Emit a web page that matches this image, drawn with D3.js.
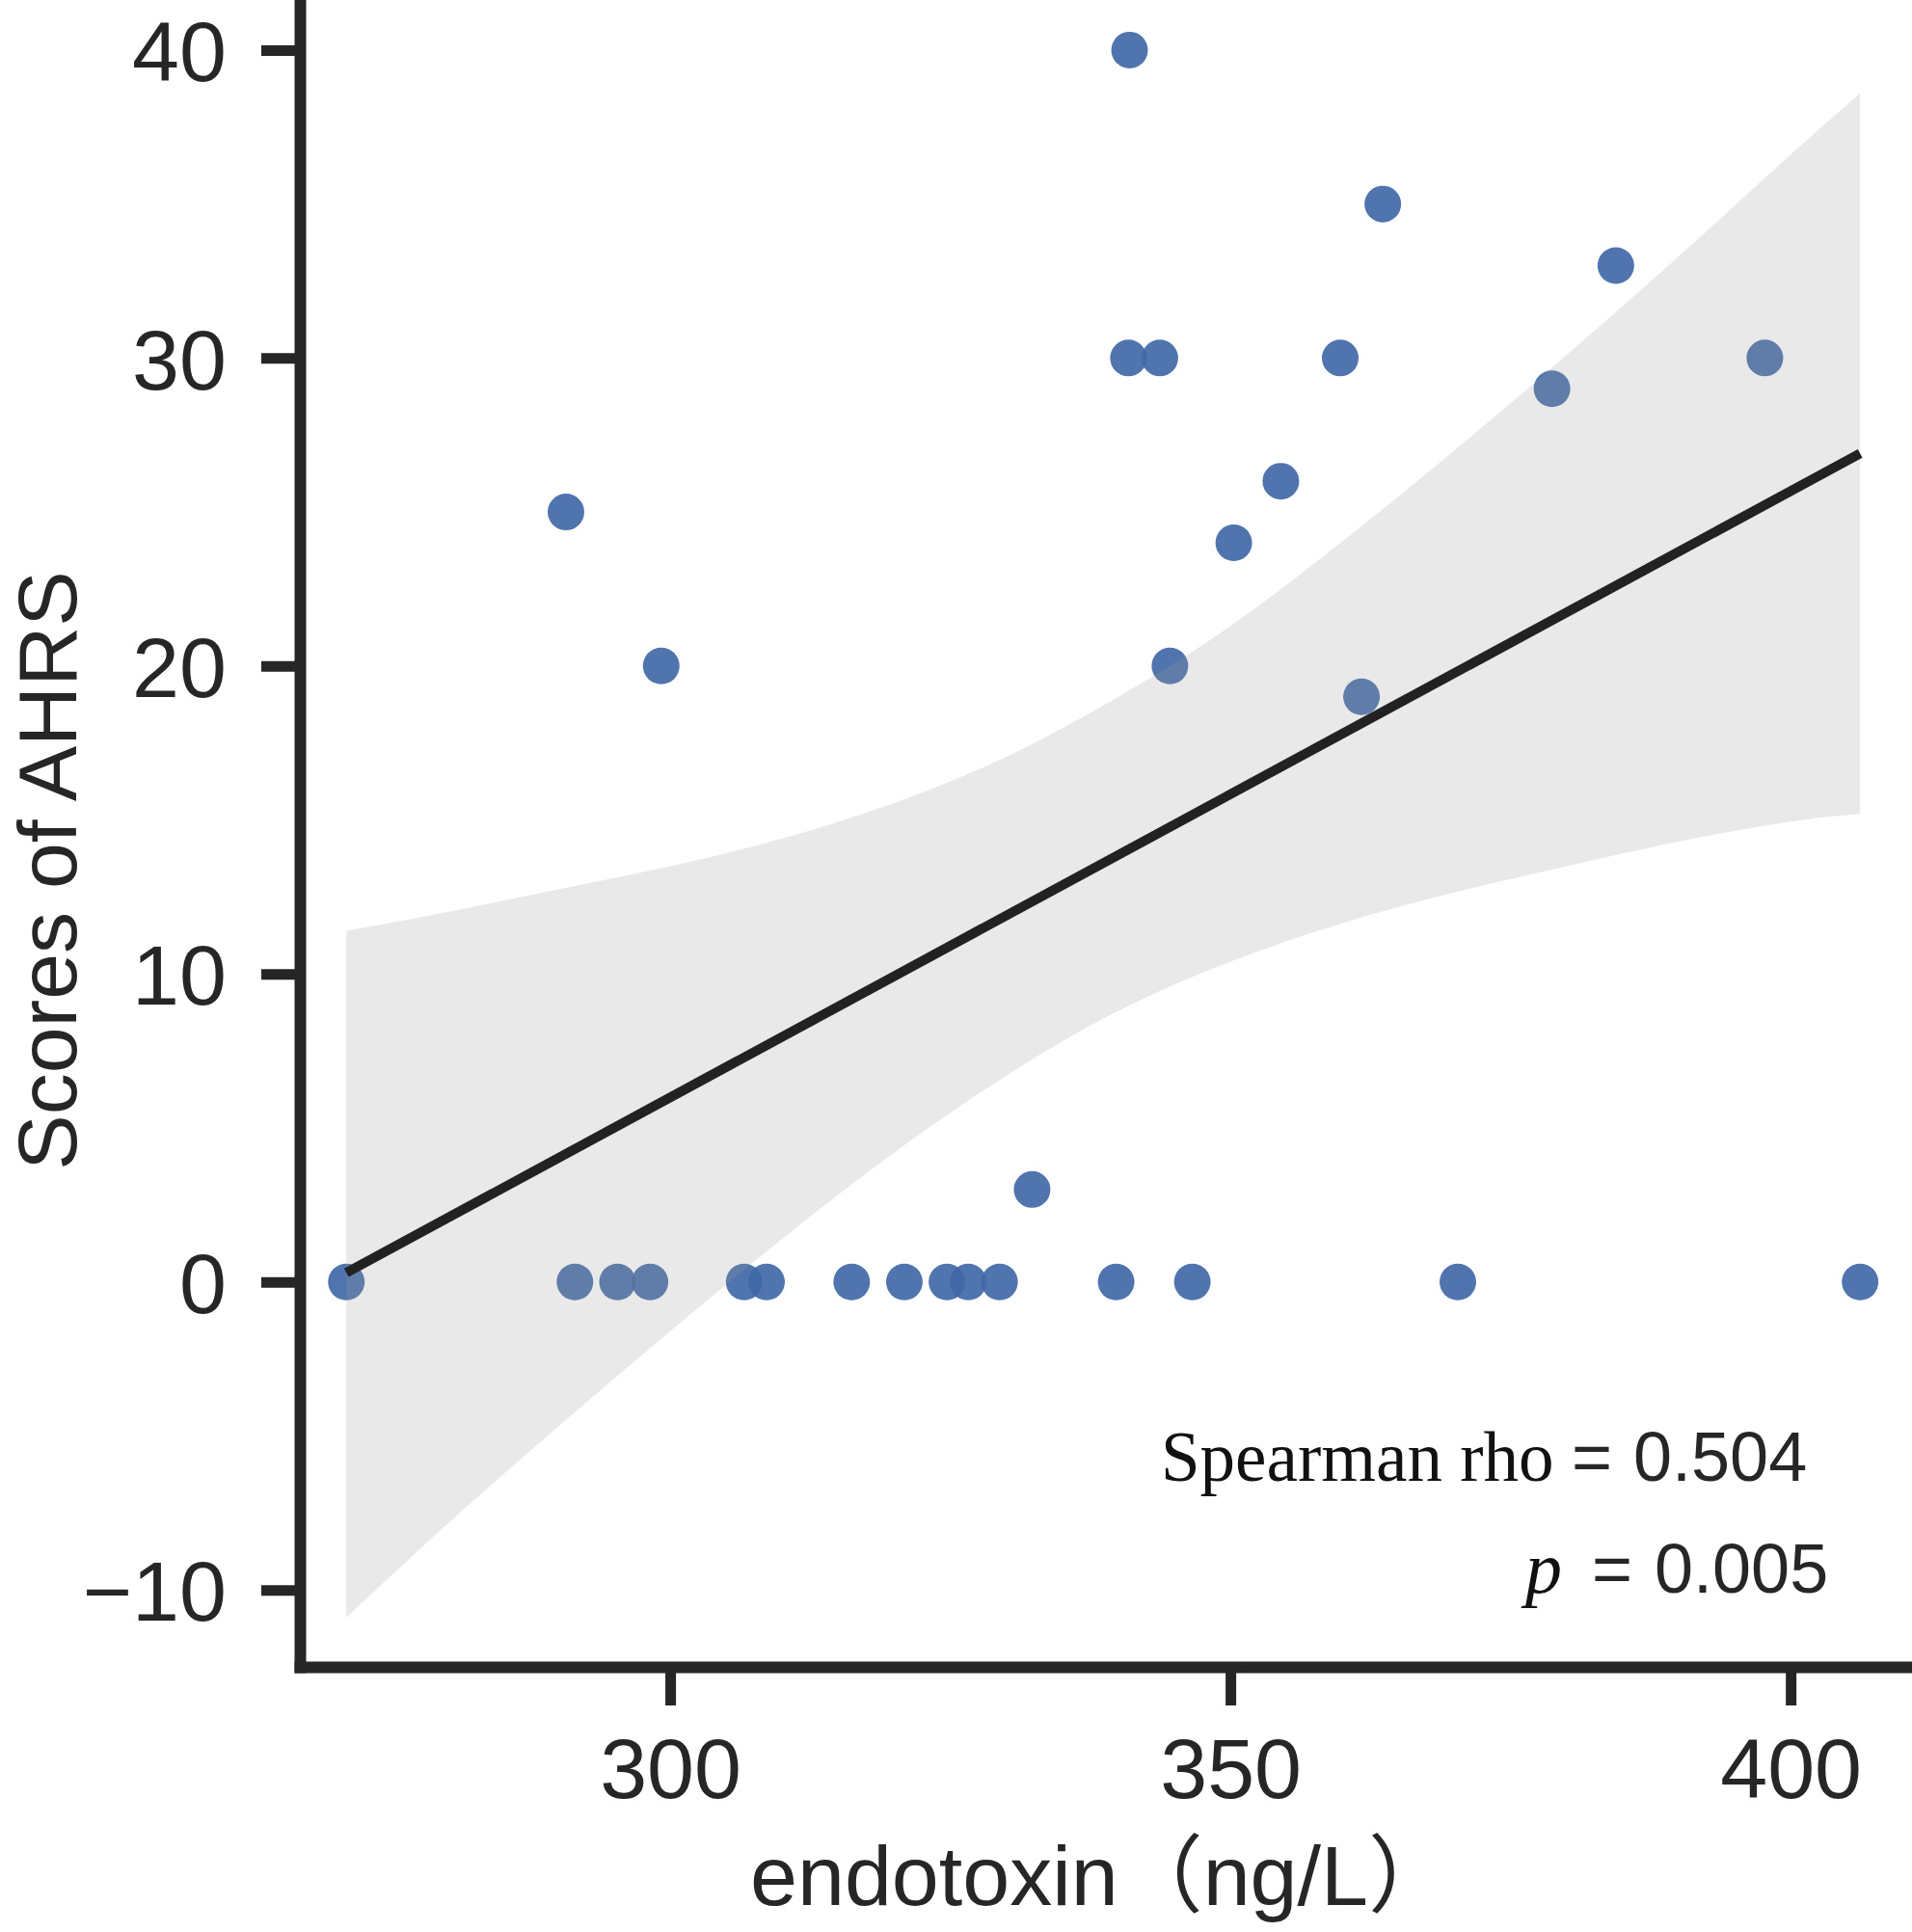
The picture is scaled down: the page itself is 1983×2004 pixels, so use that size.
<!DOCTYPE html>
<html>
<head>
<meta charset="utf-8">
<script src="https://cdn.jsdelivr.net/npm/d3@7"></script>
<style>
  html, body { margin: 0; padding: 0; background: #ffffff; }
  svg { display: block; }
</style>
</head>
<body>
<div id="chart"></div>
<script>
// ---- data ----
const endotoxin = [271.1, 290.7, 299.2, 291.5, 295.3, 298.2, 306.6, 308.6, 316.2, 320.9,
                   324.7, 326.6, 329.4, 332.3, 339.8, 346.6, 341.0, 340.9, 343.7, 344.6,
                   350.3, 354.5, 359.8, 361.7, 363.6, 370.3, 378.7, 384.4, 397.7, 406.2];
const ahrs      = [0, 25, 20, 0, 0, 0, 0, 0, 0, 0,
                   0, 0, 0, 3, 0, 0, 40, 30, 30, 20,
                   24, 26, 30, 19, 35, 0, 29, 33, 30, 0];

// fitted line (read endpoints) and confidence band (read edges)
const fitX = [271.1, 406.2];
const fitY = [0.3, 26.9];
const bandX     = [271.1, 280, 290, 300, 310, 320, 330, 340, 350, 360, 370, 380, 390, 400, 406.2];
const bandLower = [-10.9, -7.9, -4.7, -1.6, 1.4, 4.2, 6.7, 8.8, 10.4, 11.65, 12.65, 13.5, 14.3, 14.95, 15.2];
const bandUpper = [11.4, 12.0, 12.75, 13.5, 14.4, 15.55, 17.05, 19.0, 21.3, 24.05, 27.0, 30.1, 33.3, 36.6, 38.6];

const xTicks = [300, 350, 400];
const yTicks = [-10, 0, 10, 20, 30, 40];
const xTitle = "endotoxin（ng/L）";
const yTitle = "Scores of AHRS";
const statRho = ["Spearman rho", "=", "0.504"];
const statP   = ["p", "=", "0.005"];

// ---- layout ----
const W = 1983, H = 2004;
const SANS = "'Liberation Sans', Arial, 'Noto Sans CJK SC', sans-serif";
const SERIF = "'Liberation Serif', 'Times New Roman', serif";
const AX = "#262626";

const svg = d3.select("#chart").append("svg")
  .attr("width", W).attr("height", H)
  .attr("viewBox", `0 0 ${W} ${H}`);

const x = d3.scaleLinear().domain([266.95, 410.4]).range([311, 1978]);
const y = d3.scaleLinear().domain([-12.5, 41.5]).range([1729, 4]);

const pts = endotoxin.map((v, i) => ({x: v, y: ahrs[i]}));
const band = bandX.map((v, i) => ({x: v, lo: bandLower[i], hi: bandUpper[i]}));
const fit = fitX.map((v, i) => ({x: v, y: fitY[i]}));

// points
svg.append("g").selectAll("circle").data(pts).join("circle")
  .attr("cx", d => x(d.x)).attr("cy", d => y(d.y)).attr("r", 19)
  .attr("fill", "#4168a6").attr("fill-opacity", 0.92);

// confidence band
svg.append("path").datum(band)
  .attr("d", d3.area().x(d => x(d.x)).y0(d => y(d.lo)).y1(d => y(d.hi)).curve(d3.curveNatural))
  .attr("fill", "#999999").attr("fill-opacity", 0.22);

// fitted line
svg.append("path").datum(fit)
  .attr("d", d3.line().x(d => x(d.x)).y(d => y(d.y)))
  .attr("fill", "none").attr("stroke", "#222222").attr("stroke-width", 10);

// axes
const xAxis = svg.append("g").attr("transform", "translate(0,1729)")
  .call(d3.axisBottom(x).tickValues(xTicks).tickSize(40).tickSizeOuter(0).tickPadding(34).tickFormat(d3.format("d")));
const yAxis = svg.append("g").attr("transform", "translate(311,0)")
  .call(d3.axisLeft(y).tickValues(yTicks).tickSize(40).tickSizeOuter(0).tickPadding(36)
        .tickFormat(d => d < 0 ? "\u2212" + Math.abs(d) : String(d)));

[xAxis, yAxis].forEach(g => {
  g.select(".domain").attr("stroke", AX).attr("stroke-width", 12).attr("stroke-linecap", "square");
  g.selectAll(".tick line").attr("stroke", AX).attr("stroke-width", 11);
  g.selectAll(".tick text").attr("fill", AX).style("font-family", SANS).style("font-size", "88px");
});
yAxis.selectAll(".tick text").attr("dy", "0.36em");

// axis titles
svg.append("text").attr("x", 778).attr("y", 1976)
  .style("font-family", SANS).style("font-size", "88px").attr("fill", AX)
  .text(xTitle);
svg.append("text").attr("transform", "translate(79,903) rotate(-90)")
  .attr("text-anchor", "middle")
  .style("font-family", SANS).style("font-size", "86px").attr("fill", AX)
  .text(yTitle);

// statistics annotation
const t1 = svg.append("text").attr("y", 1536).attr("fill", "#111");
t1.append("tspan").attr("x", 1204).style("font-family", SERIF).style("font-size", "73px").text(statRho[0]);
t1.append("tspan").attr("x", 1630).style("font-family", SANS).style("font-size", "72px").attr("fill", AX).text(statRho[1]);
t1.append("tspan").attr("x", 1694).style("font-family", SANS).style("font-size", "72px").attr("fill", AX).text(statRho[2]);

const t2 = svg.append("text").attr("y", 1652).attr("fill", "#111");
t2.append("tspan").attr("x", 1582).style("font-family", SERIF).style("font-style", "italic").style("font-size", "76px").text(statP[0]);
t2.append("tspan").attr("x", 1651).style("font-family", SANS).style("font-size", "72px").attr("fill", AX).text(statP[1]);
t2.append("tspan").attr("x", 1716).style("font-family", SANS).style("font-size", "72px").attr("fill", AX).text(statP[2]);
</script>
</body>
</html>
